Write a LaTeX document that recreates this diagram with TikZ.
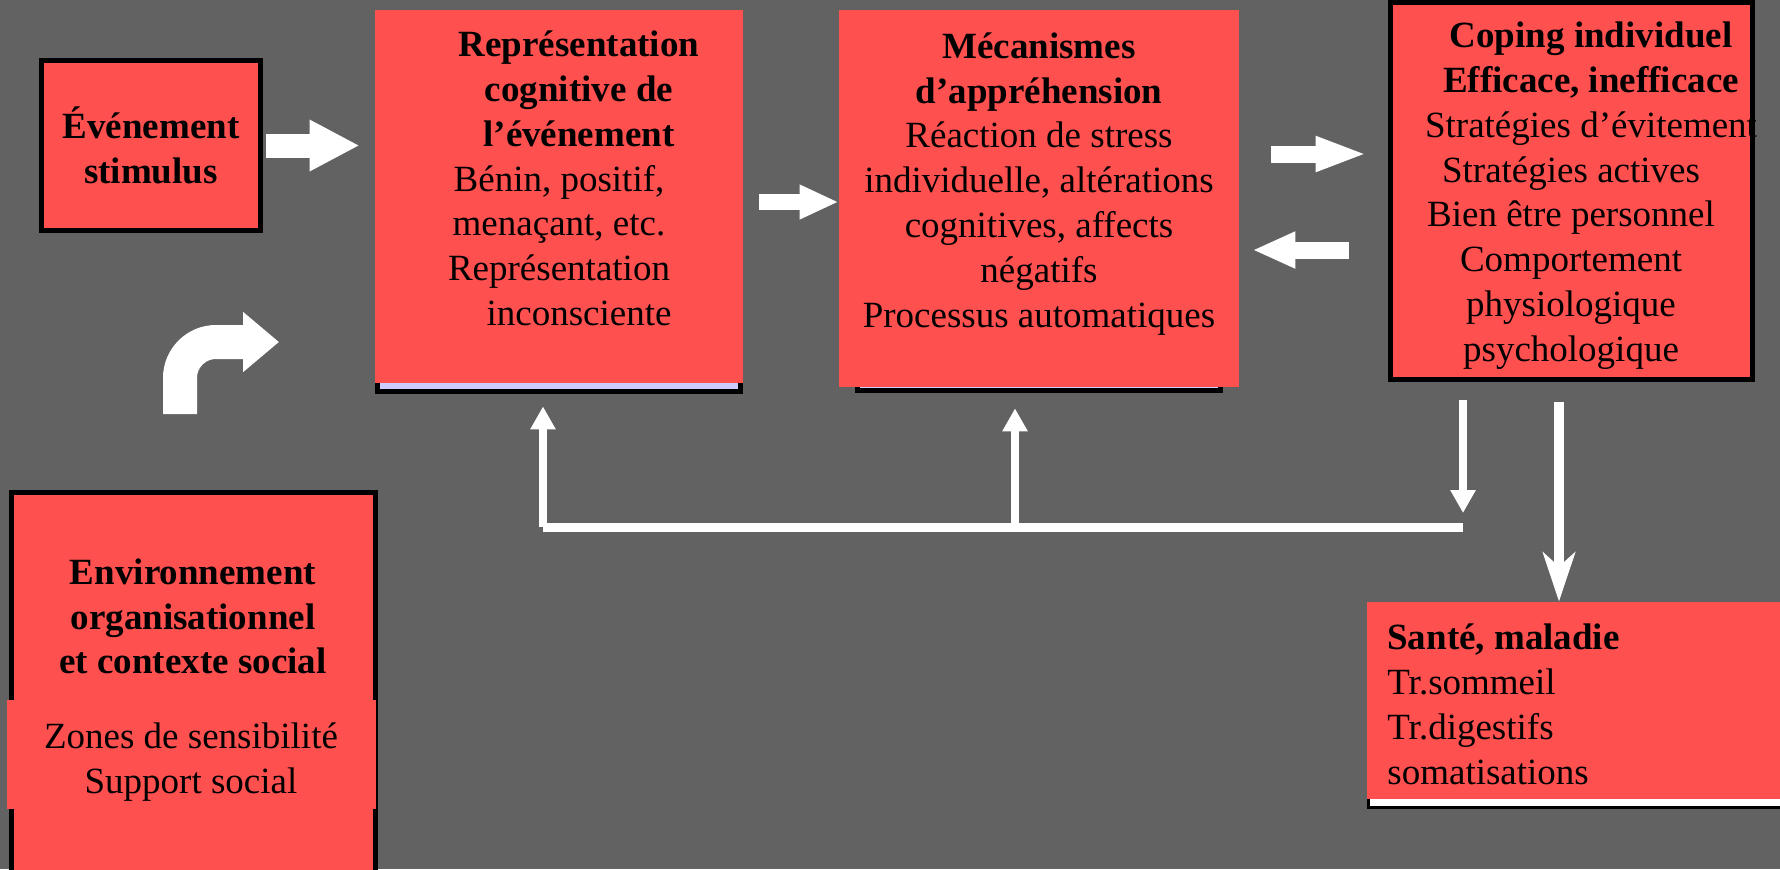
\documentclass[tikz,border=0pt]{standalone}
\usepackage{fontspec}
\setmainfont{Liberation Serif}
\usetikzlibrary{arrows.meta}
\definecolor{bg}{RGB}{98,98,98}
\definecolor{boxred}{RGB}{255,80,80}
\definecolor{lav}{RGB}{204,204,255}

\begin{document}
\begin{tikzpicture}
  [x=0.5pt,y=-0.5pt,
   every node/.style={inner sep=0pt,font=\fontsize{18.5pt}{22.4pt}\selectfont},
   box/.style={fill=boxred,draw=black,line width=2.5pt},
   flat/.style={fill=boxred},
   shade/.style={fill=lav,draw=black,line width=2.5pt},
   txt/.style={align=center,anchor=north},
   fat/.style n args={3}{draw=white,line width=#1,-{Triangle[length=#2 0 0,width=#3 0 0]}},
   thin arrow/.style={draw=white,line width=3.75pt,-{Triangle[length=11.5pt 0 0,width=12pt 0 0]}}]
  \useasboundingbox (0,0) rectangle (1780,869);
  \clip (0,0) rectangle (1780,869);
  \fill[bg] (0,0) rectangle (1780,869);

  % shadows behind the boxes
  \draw[shade] (377.5,22.5) rectangle (740.5,391.5);
  \draw[shade] (857.5,22.5) rectangle (1220.5,390.5);
  \draw[fill=white,draw=black,line width=1.5pt] (1368.5,612) rectangle (1800,807.5);

  % boxes
  \node[box,align=center,minimum width=109.5pt,minimum height=85pt] (ev) at (151,145.5)
    {\textbf{Événement}\\ \textbf{stimulus}};
  \node[flat,minimum width=184pt,minimum height=186.5pt] (repr) at (559,196.5) {};
  \node[flat,minimum width=200pt,minimum height=188.5pt] (meca) at (1039,198.5) {};
  \node[box,minimum width=181pt,minimum height=188.5pt] (coping) at (1571.5,191) {};
  \node[box,minimum width=182pt,minimum height=192.5pt] (env) at (193.5,685) {};
  \node[flat,minimum width=184.5pt,minimum height=54.5pt] (zones) at (191.5,754.5) {};
  \node[flat,minimum width=211.5pt,minimum height=98.5pt] (sante) at (1578.5,700.5) {};

  % texts
  \node[txt] (t1) at (559,25)
    {\textbf{\hspace*{20pt}\strut Représentation}\\ \textbf{\hspace*{20pt}cognitive de}\\
     \textbf{\hspace*{20pt}l’événement}\\ Bénin, positif,\\ menaçant, etc.\\
     Représentation\\ \hspace*{20pt}inconsciente};
  \node[txt] (t2) at (1039,26.5)
    {\textbf{\strut Mécanismes}\\ \textbf{d’appréhension}\\ Réaction de stress\\
     individuelle, altérations\\ cognitives, affects\\ négatifs\\ Processus automatiques};
  \node[txt] (t3) at (1571,15.9)
    {\textbf{\hspace*{20pt}\strut Coping individuel}\\ \textbf{\hspace*{20pt}Efficace, inefficace}\\
     \hspace*{20pt}Stratégies d’évitement\\ Stratégies actives\\ Bien être personnel\\
     Comportement\\ physiologique\\ psychologique};
  \node[txt] (t4) at (193,552.5)
    {\textbf{\strut Environnement}\\ \textbf{organisationnel}\\ \textbf{et contexte social}};
  \node[txt] (t5) at (191,717) {\strut Zones de sensibilité\\ Support social};
  \node[align=left,anchor=north west] (t6) at (1387,618)
    {\textbf{\strut Santé, maladie}\\ Tr.sommeil\\ Tr.digestifs\\ somatisations};

  % block arrows
  \draw[fat={12pt}{25pt}{24pt}] ([xshift=1.25pt]ev.east) -- ([xshift=-7.5pt]ev.east -| repr.west);
  \draw[fat={8pt}{19.5pt}{16pt}] ([xshift=8pt,yshift=-2.75pt]repr.east) -- ([yshift=-2.75pt]repr.east -| meca.west);
  \draw[fat={8.5pt}{26pt}{16pt}] ([xshift=16pt,yshift=22.25pt]meca.east) -- ([xshift=-10.25pt,yshift=22.25pt]meca.east -| coping.west);
  \draw[fat={8.5pt}{21.5pt}{17pt}] ([xshift=-19.75pt,yshift=-25.75pt]meca.east -| coping.west) -- ([xshift=6.5pt,yshift=-25.75pt]meca.east);

  \coordinate (c1) at (180,414);
  \coordinate (c2) at (279,342);
  \draw[fat={17pt}{18pt}{29pt},rounded corners=18pt] (c1) |- (c2);

  % feedback loop
  \coordinate (fbl) at (543,527);
  \coordinate (fbm) at (1015,527);
  \coordinate (fbr) at (1463,527);
  \draw[white,line width=4.5pt] (fbr) -- (fbl);
  \draw[thin arrow] ([yshift=-8.75pt]coping.south -| fbr) -- ([yshift=7pt]fbr);
  \foreach \p/\b/\d in {fbl/repr/-11.5pt,fbm/meca/-10.5pt}
    \draw[thin arrow] (\p) -- ([yshift=\d]\b.south -| \p);

  \draw[white,line width=5pt,-{Stealth[length=24.5pt 0 0,width=16pt 0 0,inset=7pt]}]
    ([xshift=-6.25pt,yshift=-9.75pt]coping.south) -- ([xshift=-6.25pt]coping.south |- sante.north);
\end{tikzpicture}
\end{document}
